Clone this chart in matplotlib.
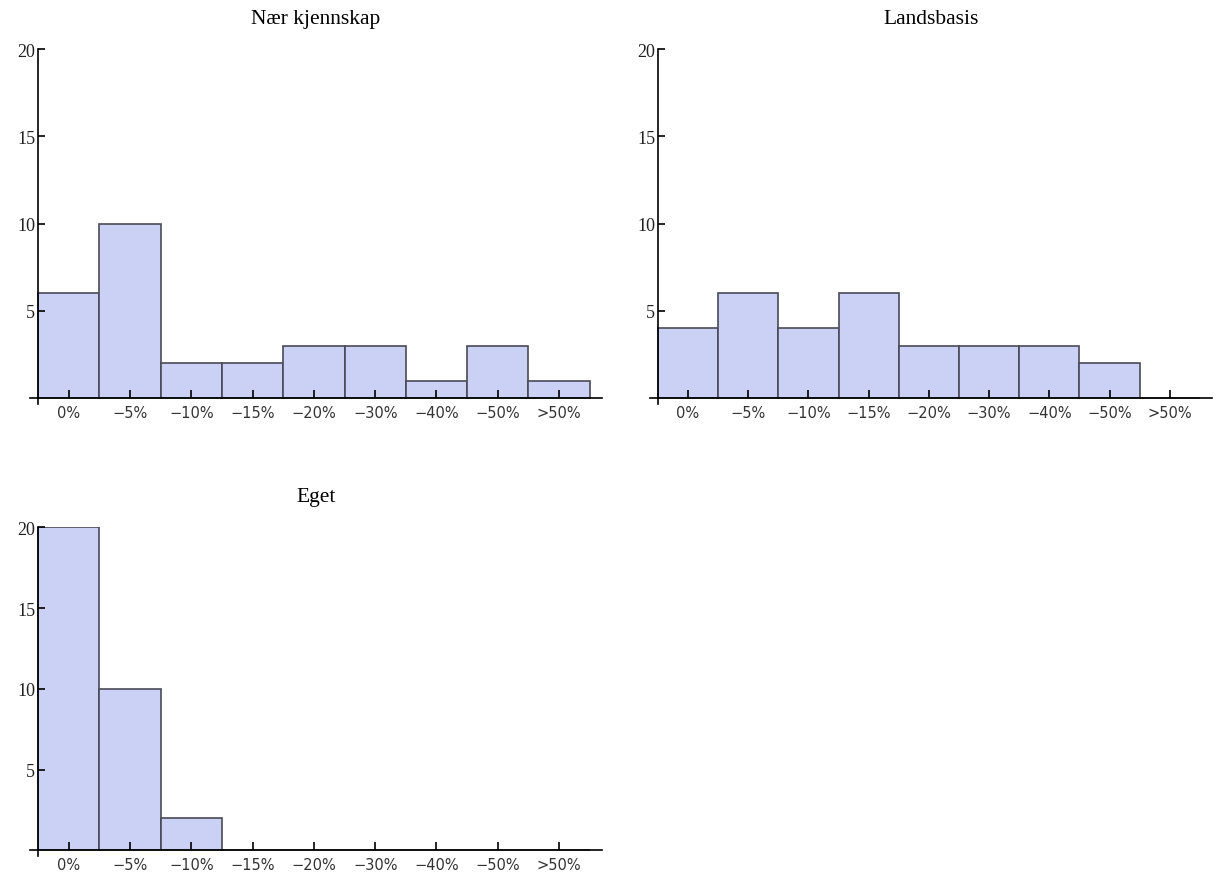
import matplotlib
matplotlib.use("Agg")
from matplotlib import pyplot as plt

categories = ["0%", "\u22125%", "\u221210%", "\u221215%", "\u221220%",
              "\u221230%", "\u221240%", "\u221250%", ">50%"]
naer_kjennskap = [6, 10, 2, 2, 3, 3, 1, 3, 1]
landsbasis = [4, 6, 4, 6, 3, 3, 3, 2, 0]
eget = [20, 10, 2, 0, 0, 0, 0, 0, 0]

bar_color = "#cbd1f4"
edge_color = "#4a4a58"


def hist_panel(ax, title, values):
    x = list(range(len(categories)))
    ax.bar(x, values, width=1.0, color=bar_color, edgecolor=edge_color,
           linewidth=1.2, zorder=1)
    ax.set_axisbelow(False)
    ax.set_xlim(-0.63, 8.7)
    ax.set_ylim(-0.35, 20)
    ax.spines["left"].set_position(("data", -0.5))
    ax.spines["bottom"].set_position(("data", 0))
    ax.spines["top"].set_visible(False)
    ax.spines["right"].set_visible(False)
    for s in ("left", "bottom"):
        ax.spines[s].set_linewidth(1.2)
        ax.spines[s].set_zorder(3)
    ax.set_xticks(x)
    ax.set_xticklabels(categories, family="DejaVu Sans", fontsize=10.5,
                       color="#333333")
    ax.set_yticks([5, 10, 15, 20])
    ax.set_yticklabels(["5", "10", "15", "20"], family="Liberation Serif",
                       fontsize=13, color="#222222")
    ax.tick_params(axis="x", direction="in", length=6, width=1.2, pad=5)
    ax.tick_params(axis="y", direction="in", length=5, width=1.2, pad=2)
    ax.set_title(title, family="Liberation Serif", fontsize=15.5, pad=19)


fig = plt.figure(figsize=(12.18, 8.79), dpi=100)
ax1 = fig.add_axes([30 / 1218, 0.539, 572 / 1218, 0.404])
ax2 = fig.add_axes([650 / 1218, 0.539, 562 / 1218, 0.404])
ax3 = fig.add_axes([30 / 1218, 0.025, 572 / 1218, 0.374])

hist_panel(ax1, "N\u00e6r kjennskap", naer_kjennskap)
hist_panel(ax2, "Landsbasis", landsbasis)
hist_panel(ax3, "Eget", eget)

fig.savefig("out.png", dpi=100)
